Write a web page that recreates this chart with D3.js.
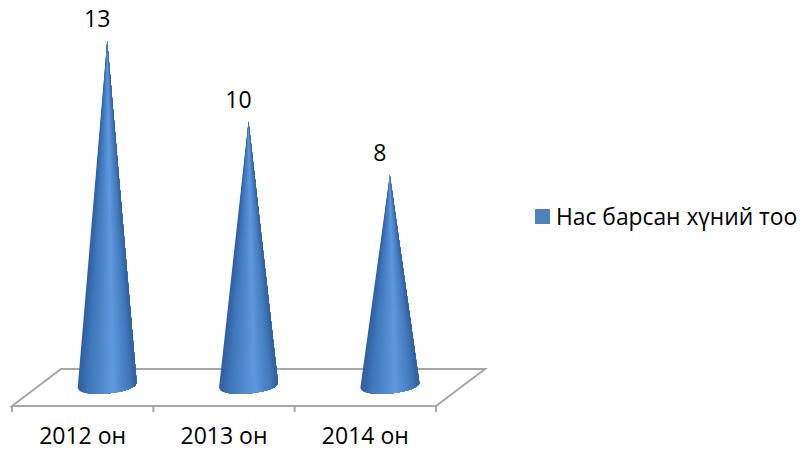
<!DOCTYPE html>
<html>
<head>
<meta charset="utf-8">
<script src="https://cdn.jsdelivr.net/npm/d3@7"></script>
<style>
  body { margin: 0; background: #fff; }
  text { font-family: "Open Sans", "Noto Sans", sans-serif; fill: #000; }
</style>
</head>
<body>
<div id="chart"></div>
<script>
const categories = ['2012 он', '2013 он', '2014 он'];
const values = [13, 10, 8];
const seriesName = 'Нас барсан хүний тоо';

const width = 800, height = 451;
const floorFront = 406, floorDepthX = 49, floorDepthY = 37;

const svg = d3.select('#chart').append('svg')
    .attr('width', width)
    .attr('height', height)
    .style('display', 'block');

const x = d3.scaleBand().domain(categories).range([12, 436]);
const y = d3.scaleLinear().domain([0, 13]).range([390, 41]);

// shading runs around the cone, so it has to narrow towards the tip
const shade = d3.scaleLinear()
    .domain([0, 0.18, 0.6, 0.88, 1])
    .range(['#2f5f9f', '#3f76ba', '#5f98de', '#4278bb', '#2f5f9e']);

// floor of the 3d plot
const left = x.range()[0], right = x.range()[1];
svg.append('path')
    .attr('d', 'M' + left + ',' + floorFront + 'L' + right + ',' + floorFront +
        'L' + (right + floorDepthX) + ',' + (floorFront - floorDepthY) +
        'L' + (left + floorDepthX) + ',' + (floorFront - floorDepthY) + 'Z')
    .attr('fill', 'none')
    .attr('stroke', '#a6a6a6')
    .attr('stroke-width', 2);

// ticks sit on the band edges, not the centres
svg.selectAll('.tick-mark')
    .data(categories.map(c => x(c)).concat(right))
    .enter().append('line')
    .attr('class', 'tick-mark')
    .attr('x1', d => d).attr('x2', d => d)
    .attr('y1', floorFront).attr('y2', floorFront + 6)
    .attr('stroke', '#a6a6a6')
    .attr('stroke-width', 2);

// cones stand in the middle of the floor depth, base tilted a little
const coneShift = floorDepthX / 2;
const rx = 29.5, ry = 8;
const slices = 40;
const coneX = i => x(categories[i]) + x.bandwidth() / 2 + coneShift;

// point on the front half of the base, t goes left to right
function basePoint(cx, t) {
    const u = 2 * t - 1;
    const mid = y(0) - 2 - 5 * t;
    return [cx + rx * u, mid + ry * Math.sqrt(1 - u * u)];
}

// every slice also covers the rest of the cone, the next one paints over it (no seams)
svg.selectAll('.cone')
    .data(values)
    .enter().append('g')
    .attr('class', 'cone')
    .each(function(d, i) {
        const cx = coneX(i);
        d3.select(this).selectAll('path')
            .data(d3.range(slices))
            .enter().append('path')
            .attr('d', s => {
                const pts = d3.range(s, slices + 1).map(k => basePoint(cx, k / slices));
                return 'M' + cx + ',' + y(d) + 'L' + pts.join('L') + 'Z';
            })
            .attr('fill', s => shade((s + 0.5) / slices));
    });

// value labels
svg.selectAll('.label')
    .data(values)
    .enter().append('text')
    .attr('class', 'label')
    .attr('x', (d, i) => coneX(i) - 10)
    .attr('y', d => y(d) - 14)
    .attr('text-anchor', 'middle')
    .attr('font-size', 23)
    .text(d => d);

// category labels
svg.selectAll('.cat')
    .data(categories)
    .enter().append('text')
    .attr('class', 'cat')
    .attr('x', d => x(d) + x.bandwidth() / 2)
    .attr('y', 444)
    .attr('text-anchor', 'middle')
    .attr('font-size', 23)
    .text(d => d);

// legend
svg.append('rect')
    .attr('x', 535).attr('y', 209)
    .attr('width', 15).attr('height', 15)
    .attr('fill', '#4f81bd');
svg.append('text')
    .attr('x', 556).attr('y', 225)
    .attr('font-size', 22.8)
    .text(seriesName);
</script>
</body>
</html>
